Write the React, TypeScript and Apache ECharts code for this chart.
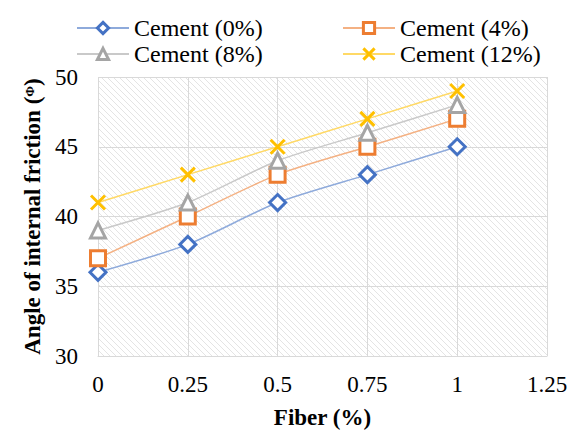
import React, { useEffect, useRef } from "react";
import * as echarts from "echarts";

const fiber = [0, 0.25, 0.5, 0.75, 1];
const cement0 = [36, 38, 41, 43, 45];
const cement4 = [37, 40, 43, 45, 47];
const cement8 = [39, 41, 44, 46, 48];
const cement12 = [41, 43, 45, 47, 49];
const seriesNames = ["Cement (0%)", "Cement (4%)", "Cement (8%)", "Cement (12%)"];

const FONT = "Liberation Serif";

function makeHatch(): string {
  const n = 6;
  const c = document.createElement("canvas");
  c.width = n;
  c.height = n;
  const ctx = c.getContext("2d")!;
  ctx.fillStyle = "#ffffff";
  ctx.fillRect(0, 0, n, n);
  ctx.strokeStyle = "#e4e4e4";
  ctx.lineWidth = 1;
  ctx.beginPath();
  ctx.moveTo(-1, -1);
  ctx.lineTo(n + 1, n + 1);
  ctx.moveTo(-1, n - 1);
  ctx.lineTo(1, n + 1);
  ctx.moveTo(n - 1, -1);
  ctx.lineTo(n + 1, 1);
  ctx.stroke();
  return c.toDataURL();
}

export default function App() {
  const ref = useRef<HTMLDivElement>(null);
  useEffect(() => {
    if (!ref.current) return;
    const chart = echarts.init(ref.current, undefined, { renderer: "svg" });
    const pair = (ys: number[]) => fiber.map((x, i) => [x, ys[i]]);
    const mk = (name: string, ys: number[], color: string, lineColor: string, symbol: string, size: number) => ({
      name,
      type: "line",
      data: pair(ys),
      smooth: 0.25,
      symbol,
      symbolSize: size,
      lineStyle: { color: lineColor, width: 1.5 },
      itemStyle: { color: "#ffffff", borderColor: color, borderWidth: 3 },
      z: 3,
    });
    const crossSymbol = "path://M0,0L10,10M10,0L0,10";
    const legendText = { fontFamily: FONT, fontSize: 24, color: "#000" };
    const legendBase = {
      orient: "vertical",
      top: 16,
      itemWidth: 52,
      itemHeight: 14,
      itemGap: 2,
      padding: 0,
      itemStyle: { borderWidth: 3 },
      textStyle: legendText,
    };
    chart.setOption({
      animation: false,
      textStyle: { fontFamily: FONT },
      legend: [
        { ...legendBase, data: [seriesNames[0], seriesNames[2]], left: 76 },
        { ...legendBase, data: [seriesNames[1], seriesNames[3]], left: 342 },
      ],
      grid: {
        left: 98,
        right: 34,
        top: 77,
        bottom: 76,
        show: true,
        borderWidth: 0,
        outerBoundsMode: "none",
        backgroundColor: { image: makeHatch(), repeat: "repeat" } as any,
      },
      xAxis: {
        type: "value",
        min: 0,
        max: 1.25,
        interval: 0.25,
        name: "Fiber (%)",
        nameLocation: "middle",
        nameGap: 50,
        nameTextStyle: { fontFamily: FONT, fontSize: 23, fontWeight: "bold", color: "#000" },
        axisLine: { show: true, lineStyle: { color: "#d9d9d9" } },
        axisTick: { show: false },
        axisLabel: { fontFamily: FONT, fontSize: 23, color: "#000", margin: 17 },
        splitLine: { show: true, lineStyle: { color: "#d9d9d9", width: 1 } },
      },
      yAxis: {
        type: "value",
        min: 30,
        max: 50,
        interval: 5,
        name: "Angle of internal friction ({s|Φ})",
        nameLocation: "middle",
        nameGap: 49,
        nameTextStyle: {
          fontFamily: FONT,
          fontSize: 23,
          fontWeight: "bold",
          color: "#000",
          rich: { s: { fontFamily: FONT, fontSize: 13, fontWeight: "bold", color: "#000", padding: [0, 0, 6, 0] } },
        },
        axisLine: { show: false },
        axisTick: { show: false },
        axisLabel: { fontFamily: FONT, fontSize: 23, color: "#000", margin: 20 },
        splitLine: { show: true, lineStyle: { color: "#d9d9d9", width: 1 } },
      },
      series: [
        mk(seriesNames[0], cement0, "#4472C4", "#8eaadb", "diamond", 16),
        mk(seriesNames[1], cement4, "#ED7D31", "#f4b183", "rect", 15),
        mk(seriesNames[2], cement8, "#A5A5A5", "#c9c9c9", "triangle", 15),
        {
          ...mk(seriesNames[3], cement12, "#FFC000", "#ffd966", crossSymbol, 14),
          itemStyle: { color: "#FFC000", borderColor: "#FFC000", borderWidth: 3 },
        },
      ],
    });
    return () => chart.dispose();
  }, []);
  return <div ref={ref} style={{ width: 581, height: 432, position: "absolute", left: 0, top: 0 }} />;
}
